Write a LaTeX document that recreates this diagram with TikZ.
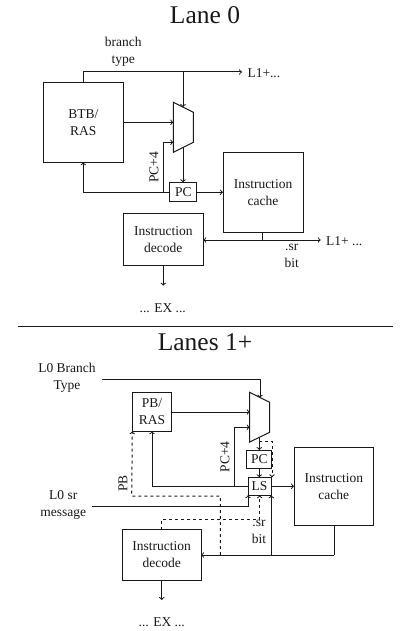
\documentclass[tikz,border=0pt]{standalone}
\usepackage{fontspec}
\setmainfont{Liberation Serif}
\tikzset{
  block/.style={draw,align=center,inner sep=0pt,outer sep=0pt,font=\fontsize{13.5}{17}\selectfont},
  lbl/.style={align=center,inner sep=0pt,font=\fontsize{13.5}{17}\selectfont},
  ttl/.style={inner sep=0pt,font=\fontsize{25.5}{28}\selectfont},
}
\begin{document}
\begin{tikzpicture}[x=1pt,y=-1pt,>=to,line width=1pt,color=black!90]
			\useasboundingbox (0,0) rectangle (399,631);
			% lane 0
			\node[ttl] (title0) at (205,15) {Lane 0};
			\node[block,minimum width=80pt,minimum height=80pt] (btb) at (83.3,122.3) {BTB/\\RAS};
			\node[block,minimum width=26.7pt,minimum height=19pt] (pc) at (183.3,191.8) {PC};
			\node[block,minimum width=80pt,minimum height=79.4pt] (cache) at (263,192.5) {Instruction\\cache};
			\node[block,minimum width=80pt,minimum height=51.7pt] (decode) at (163.3,239.8) {Instruction\\decode};
			\node[lbl] (branch) at (123.3,51.5) {branch\\type};
			\node[lbl,anchor=west] (lone) at (247,73.5) {L1+...};
			\node[lbl,anchor=west] (ltwo) at (325.7,241) {L1+ ...};
			\node[lbl] (srbit) at (291.7,256) {.sr\\bit};
			\node[lbl,rotate=90] (pcfour) at (154,167.5) {PC+4};
			\node[lbl] (ex) at (162.7,308) {... EX ...};
			\coordinate (ma) at (173.3,102.3);
			\coordinate (mb) at (193.3,112.3);
			\coordinate (mc) at (193.3,142.3);
			\coordinate (md) at (173.3,152.3);
			\coordinate (top) at (83.3,72);
			\coordinate (topj) at (183,72);
			\coordinate (tope) at (242,72);
			\coordinate (pcj) at (163.3,192.3);
			\coordinate (sj) at (262.7,240);
			\coordinate (se) at (320.7,240);
			\coordinate (exe) at (163.3,285.7);
			\draw (ma)--(mb)--(mc)--(md)--cycle;
			\draw[->] (btb.north)--(top)--(tope);
			\draw[->] (topj)--(183,107);
			\draw[->] (btb.east |- 0,122.3)--(173.3,122.3);
			\draw[->] (pcj)--(163.3,142.3)--(173.3,142.3);
			\draw[->] (183,147)--(pc.north -| 183,0);
			\draw[->] (pc.west |- pcj)-|(btb.south);
			\draw[->] (pc.east |- pcj)--(cache.west |- pcj);
			\draw (cache.south -| sj)--(sj);
			\draw[->] (sj)--(decode.east |- sj);
			\draw[->] (sj)--(se);
			\draw[->] (decode.south)--(exe);
			% divider
			\coordinate (rl) at (18,326.7);
			\coordinate (rr) at (393,326.7);
			\draw (rl)--(rr);
			% lanes 1+
			\node[ttl] (title1) at (205,342) {Lanes 1+};
			\node[block,minimum width=39.4pt,minimum height=39pt] (pb) at (152,411.8) {PB/\\RAS};
			\node[block,minimum width=25.3pt,minimum height=18.3pt] (pcb) at (259.3,459.2) {PC};
			\node[block,minimum width=23pt,minimum height=18pt] (ls) at (259.5,486.3) {LS};
			\node[block,minimum width=79.5pt,minimum height=77.7pt] (cacheb) at (333.8,486.2) {Instruction\\cache};
			\node[block,minimum width=78.7pt,minimum height=50.6pt] (decodeb) at (161.7,555) {Instruction\\decode};
			\node[lbl] (lbranch) at (67,378) {L0 Branch\\Type};
			\node[lbl] (lsr) at (63.3,505.3) {L0 sr\\message};
			\node[lbl,rotate=90] (pcfourb) at (225,457) {PC+4};
			\node[lbl,rotate=90] (pblbl) at (123,483.3) {PB};
			\node[lbl] (srbitb) at (259,532) {.sr\\bit};
			\node[lbl] (exb) at (161.7,622) {... EX ...};
			\coordinate (na) at (249.7,392.3);
			\coordinate (nb) at (269.7,402.3);
			\coordinate (nc) at (269.7,432.3);
			\coordinate (nd) at (249.7,442);
			\coordinate (bs) at (101.7,379);
			\coordinate (bj) at (260,379);
			\coordinate (lsj) at (234,486.3);
			\coordinate (srs) at (92.3,506);
			\coordinate (cj) at (334,555);
			\coordinate (lj) at (271.3,555);
			\coordinate (dj) at (220.3,555);
			\coordinate (exf) at (161.7,600);
			\draw (na)--(nb)--(nc)--(nd)--cycle;
			\draw[->] (bs)--(bj)--(260,397.7);
			\draw[->] (pb.east |- 0,412)--(249.7,412);
			\draw[->] (lsj)--(234,427.3)--(249.7,427.3);
			\draw[->] (ls.west |- lsj)-|(pb.south);
			\draw[->] (259.3,437)--(pcb.north -| 259.3,0);
			\draw[->] (pcb.south -| 259.3,0)--(ls.north -| 259.3,0);
			\draw[->] (ls.east |- lsj)--(cacheb.west |- lsj);
			\draw (cacheb.south -| cj)--(cj);
			\draw[->] (cj)--(decodeb.east |- cj);
			\draw[->] (lj)--(lj |- ls.south);
			\draw[->] (srs)-|(ls.south west);
			\draw[->] (decodeb.south)--(exf);
			\draw[->,dashed] (259.3,441)--(272,441)--(272,477.3);
			\draw[->,dashed] (dj)--(220.3,496)--(131.7,496)--(pb.south west);
			\draw[->,dashed] (decodeb.north)--(161.7,519.3)--(259.7,519.3)--(259.7,495.3);
\end{tikzpicture}
\end{document}
